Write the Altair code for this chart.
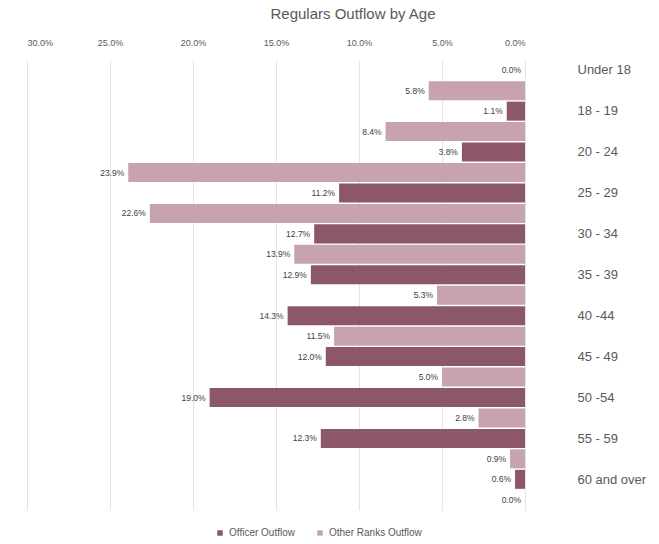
import altair as alt
import pandas as pd

ages = ["Under 18", "18 - 19", "20 - 24", "25 - 29", "30 - 34", "35 - 39",
        "40 -44", "45 - 49", "50 -54", "55 - 59", "60 and over"]
officer = [0.0, 1.1, 3.8, 11.2, 12.7, 12.9, 14.3, 12.0, 19.0, 12.3, 0.6]
other = [5.8, 8.4, 23.9, 22.6, 13.9, 5.3, 11.5, 5.0, 2.8, 0.9, 0.0]
series = ["Officer Outflow", "Other Ranks Outflow"]
colors = ["#8C5869", "#C6A3AE"]
ticks = [0, 5, 10, 15, 20, 25, 30]

rows = []
for a, o, r in zip(ages, officer, other):
    rows.append({"age": a, "series": series[0], "value": o})
    rows.append({"age": a, "series": series[1], "value": r})
df = pd.DataFrame(rows)

FONT = "Liberation Sans"

base = alt.Chart(df).encode(
    y=alt.Y("age:N", sort=ages,
            scale=alt.Scale(paddingInner=0, paddingOuter=0),
            axis=alt.Axis(orient="right", title=None, domain=False, ticks=False,
                          labelAlign="left", labelPadding=52, labelOffset=-10,
                          labelFontSize=13, labelColor="#595959", labelFont=FONT)),
    yOffset=alt.YOffset("series:N", sort=series,
                        scale=alt.Scale(paddingInner=0.07, paddingOuter=0.035)),
)

bars = base.mark_bar().encode(
    x=alt.X("value:Q",
            scale=alt.Scale(domain=[0, 30], reverse=True, nice=False),
            axis=alt.Axis(orient="top", values=ticks,
                          labelExpr="format(datum.value,'.1f')+'%'",
                          title=None, domain=False, ticks=False, labelPadding=13,
                          labelFontSize=9, labelColor="#595959", labelFont=FONT,
                          grid=True, gridColor="#E4E4E4")),
    color=alt.Color("series:N", sort=series,
                    scale=alt.Scale(domain=series, range=colors),
                    legend=alt.Legend(orient="none", legendX=188, legendY=468,
                                      direction="horizontal", title=None,
                                      symbolType="square", symbolSize=30,
                                      labelFontSize=10, labelColor="#595959",
                                      labelFont=FONT, columnPadding=20)),
)

labels = base.mark_text(align="right", baseline="middle", dx=-4, fontSize=8.5,
                        color="#404040", font=FONT).encode(
    x=alt.X("value:Q"),
    text=alt.Text("label:N"),
).transform_calculate(label="format(datum.value,'.1f')+'%'")

chart = alt.layer(bars, labels).properties(
    width=498, height=450,
    title=alt.TitleParams("Regulars Outflow by Age", fontSize=15, font=FONT,
                          fontWeight="normal", color="#595959", anchor="middle",
                          frame="group", dx=77, offset=16),
    autosize=alt.AutoSizeParams(type="none"),
    padding={"left": 27, "top": 60, "right": 134, "bottom": 34},
).configure_view(stroke=None)

chart.save("out.html", embed_options={"renderer": "svg", "actions": False})
